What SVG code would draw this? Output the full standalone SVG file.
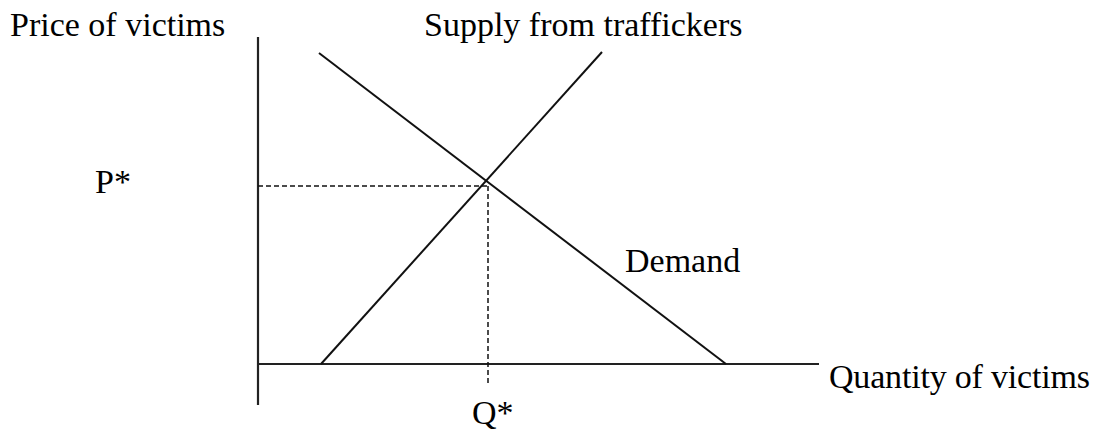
<svg xmlns="http://www.w3.org/2000/svg" width="1098" height="434" viewBox="0 0 1098 434">
<style>
text{font-family:"Liberation Serif","Times New Roman",serif;font-size:34px;fill:#000}
.ln{stroke:#111;stroke-width:2;fill:none}
.ax{stroke:#222;stroke-width:2.2;fill:none}
.ds{stroke:#111;stroke-width:1.5;stroke-dasharray:5,3;fill:none}
</style>
<rect width="1098" height="434" fill="#fff"/>
<g id="axes">
<line class="ax" x1="258" y1="37" x2="258" y2="405"/>
<line class="ax" x1="258" y1="364" x2="819" y2="364"/>
</g>
<g id="connectors">
<line id="demand-line" class="ln" x1="319" y1="53" x2="726" y2="364"/>
<line id="supply-line" class="ln" x1="321" y1="364" x2="602" y2="52"/>
<line class="ds" x1="258" y1="186" x2="488" y2="186"/>
<line class="ds" x1="488" y1="186" x2="488" y2="385"/>
</g>
<g id="labels">
<text id="price-label" x="10" y="36">Price of victims</text>
<text id="supply-label" x="424" y="36">Supply from traffickers</text>
<text id="pstar" x="95" y="193">P*</text>
<text id="demand-label" x="625" y="272">Demand</text>
<text id="quantity-label" x="829" y="388" textLength="261">Quantity of victims</text>
<text id="qstar" x="472" y="424">Q*</text>
</g>
</svg>
